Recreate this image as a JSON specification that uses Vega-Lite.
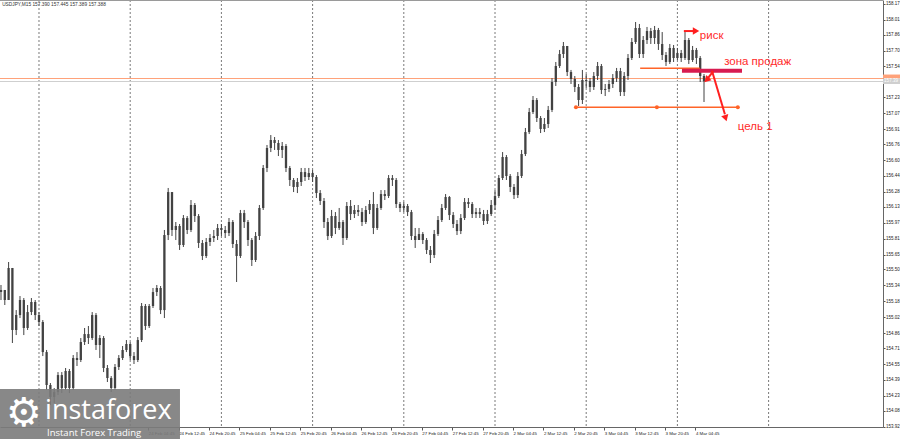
{
"$schema":"https://vega.github.io/schema/vega-lite/v6.json",
"width":883,"height":427,
"autosize":{"type":"none"},
"padding":{"left":0,"top":0,"right":17,"bottom":12},
"background":"#ffffff",
"view":{"stroke":null},
"config":{"font":"Liberation Sans"},
"datasets":{
"bars":[
{"t":-10,"o":155.273,"h":155.344,"l":155.193,"c":155.294},
{"t":-9,"o":155.294,"h":155.294,"l":155.143,"c":155.193},
{"t":-8,"o":155.193,"h":155.575,"l":155.193,"c":155.515},
{"t":-7,"o":155.515,"h":155.515,"l":154.761,"c":154.892},
{"t":-6,"o":154.892,"h":155.092,"l":154.841,"c":155.042},
{"t":-5,"o":155.042,"h":155.233,"l":155.012,"c":155.193},
{"t":-4,"o":155.193,"h":155.213,"l":154.841,"c":154.912},
{"t":-3,"o":154.912,"h":155.143,"l":154.892,"c":155.072},
{"t":-2,"o":155.072,"h":155.213,"l":155.042,"c":155.173},
{"t":-1,"o":155.173,"h":155.193,"l":154.992,"c":155.042},
{"t":0,"o":155.042,"h":155.072,"l":154.932,"c":154.972},
{"t":1,"o":154.972,"h":154.992,"l":154.630,"c":154.670},
{"t":2,"o":154.670,"h":154.691,"l":154.289,"c":154.339},
{"t":3,"o":154.339,"h":154.359,"l":154.138,"c":154.218},
{"t":4,"o":154.218,"h":154.309,"l":154.158,"c":154.268},
{"t":5,"o":154.268,"h":154.469,"l":154.238,"c":154.439},
{"t":6,"o":154.439,"h":154.469,"l":154.258,"c":154.309},
{"t":7,"o":154.309,"h":154.510,"l":154.289,"c":154.480},
{"t":8,"o":154.480,"h":154.500,"l":154.258,"c":154.309},
{"t":9,"o":154.309,"h":154.640,"l":154.289,"c":154.610},
{"t":10,"o":154.610,"h":154.670,"l":154.530,"c":154.590},
{"t":11,"o":154.590,"h":154.811,"l":154.570,"c":154.771},
{"t":12,"o":154.771,"h":154.912,"l":154.741,"c":154.851},
{"t":13,"o":154.851,"h":154.932,"l":154.751,"c":154.811},
{"t":14,"o":154.811,"h":155.072,"l":154.791,"c":155.042},
{"t":15,"o":155.042,"h":155.062,"l":154.691,"c":154.741},
{"t":16,"o":154.741,"h":154.841,"l":154.610,"c":154.811},
{"t":17,"o":154.811,"h":154.831,"l":154.469,"c":154.510},
{"t":18,"o":154.510,"h":154.540,"l":154.369,"c":154.409},
{"t":19,"o":154.409,"h":154.429,"l":154.268,"c":154.309},
{"t":20,"o":154.309,"h":154.550,"l":154.289,"c":154.520},
{"t":21,"o":154.520,"h":154.640,"l":154.490,"c":154.610},
{"t":22,"o":154.610,"h":154.731,"l":154.590,"c":154.691},
{"t":23,"o":154.691,"h":154.791,"l":154.670,"c":154.751},
{"t":24,"o":154.751,"h":154.771,"l":154.590,"c":154.630},
{"t":25,"o":154.630,"h":154.670,"l":154.550,"c":154.590},
{"t":26,"o":154.590,"h":154.821,"l":154.570,"c":154.791},
{"t":27,"o":154.791,"h":155.163,"l":154.771,"c":155.133},
{"t":28,"o":155.133,"h":155.153,"l":154.892,"c":154.932},
{"t":29,"o":154.932,"h":155.153,"l":154.912,"c":155.133},
{"t":30,"o":155.133,"h":155.314,"l":155.113,"c":155.273},
{"t":31,"o":155.273,"h":155.344,"l":155.233,"c":155.314},
{"t":32,"o":155.314,"h":155.334,"l":155.052,"c":155.092},
{"t":33,"o":155.092,"h":155.897,"l":155.012,"c":155.846},
{"t":34,"o":155.846,"h":156.319,"l":155.796,"c":156.278},
{"t":35,"o":156.278,"h":156.278,"l":155.836,"c":155.897},
{"t":36,"o":155.897,"h":155.977,"l":155.796,"c":155.937},
{"t":37,"o":155.937,"h":155.957,"l":155.696,"c":155.746},
{"t":38,"o":155.746,"h":156.047,"l":155.726,"c":156.017},
{"t":39,"o":156.017,"h":156.037,"l":155.856,"c":155.897},
{"t":40,"o":155.897,"h":156.198,"l":155.876,"c":156.148},
{"t":41,"o":156.148,"h":156.168,"l":155.977,"c":156.037},
{"t":42,"o":156.037,"h":156.057,"l":155.716,"c":155.766},
{"t":43,"o":155.766,"h":155.796,"l":155.595,"c":155.635},
{"t":44,"o":155.635,"h":155.816,"l":155.615,"c":155.776},
{"t":45,"o":155.776,"h":155.856,"l":155.736,"c":155.816},
{"t":46,"o":155.816,"h":155.897,"l":155.776,"c":155.836},
{"t":47,"o":155.836,"h":155.957,"l":155.796,"c":155.917},
{"t":48,"o":155.917,"h":155.957,"l":155.836,"c":155.897},
{"t":49,"o":155.897,"h":155.937,"l":155.816,"c":155.866},
{"t":50,"o":155.866,"h":156.017,"l":155.836,"c":155.977},
{"t":51,"o":155.977,"h":155.997,"l":155.716,"c":155.756},
{"t":52,"o":155.756,"h":155.796,"l":155.374,"c":155.635},
{"t":53,"o":155.635,"h":156.098,"l":155.615,"c":156.067},
{"t":54,"o":156.067,"h":156.098,"l":155.917,"c":155.977},
{"t":55,"o":155.977,"h":155.997,"l":155.736,"c":155.796},
{"t":56,"o":155.796,"h":155.816,"l":155.535,"c":155.595},
{"t":57,"o":155.595,"h":155.876,"l":155.575,"c":155.836},
{"t":58,"o":155.836,"h":156.148,"l":155.796,"c":156.118},
{"t":59,"o":156.118,"h":156.550,"l":156.098,"c":156.520},
{"t":60,"o":156.520,"h":156.751,"l":156.479,"c":156.721},
{"t":61,"o":156.721,"h":156.851,"l":156.680,"c":156.801},
{"t":62,"o":156.801,"h":156.831,"l":156.701,"c":156.771},
{"t":63,"o":156.771,"h":156.801,"l":156.640,"c":156.701},
{"t":64,"o":156.701,"h":156.781,"l":156.620,"c":156.741},
{"t":65,"o":156.741,"h":156.761,"l":156.479,"c":156.520},
{"t":66,"o":156.520,"h":156.540,"l":156.339,"c":156.399},
{"t":67,"o":156.399,"h":156.419,"l":156.278,"c":156.329},
{"t":68,"o":156.329,"h":156.419,"l":156.268,"c":156.379},
{"t":69,"o":156.379,"h":156.520,"l":156.339,"c":156.479},
{"t":70,"o":156.479,"h":156.520,"l":156.389,"c":156.429},
{"t":71,"o":156.429,"h":156.520,"l":156.399,"c":156.469},
{"t":72,"o":156.469,"h":156.500,"l":156.379,"c":156.429},
{"t":73,"o":156.429,"h":156.449,"l":156.218,"c":156.268},
{"t":74,"o":156.268,"h":156.298,"l":156.148,"c":156.188},
{"t":75,"o":156.188,"h":156.218,"l":155.917,"c":155.977},
{"t":76,"o":155.977,"h":156.017,"l":155.796,"c":155.836},
{"t":77,"o":155.836,"h":156.098,"l":155.816,"c":156.037},
{"t":78,"o":156.037,"h":156.077,"l":155.856,"c":155.917},
{"t":79,"o":155.917,"h":156.118,"l":155.897,"c":155.977},
{"t":80,"o":155.977,"h":155.997,"l":155.746,"c":155.816},
{"t":81,"o":155.816,"h":156.178,"l":155.796,"c":156.138},
{"t":82,"o":156.138,"h":156.198,"l":155.997,"c":156.057},
{"t":83,"o":156.057,"h":156.148,"l":156.017,"c":156.098},
{"t":84,"o":156.098,"h":156.148,"l":156.037,"c":156.077},
{"t":85,"o":156.077,"h":156.118,"l":155.937,"c":155.977},
{"t":86,"o":155.977,"h":156.138,"l":155.957,"c":156.098},
{"t":87,"o":156.098,"h":156.198,"l":156.057,"c":156.158},
{"t":88,"o":156.158,"h":156.278,"l":155.856,"c":155.917},
{"t":89,"o":155.917,"h":156.158,"l":155.897,"c":156.118},
{"t":90,"o":156.118,"h":156.298,"l":156.098,"c":156.258},
{"t":91,"o":156.258,"h":156.298,"l":156.198,"c":156.238},
{"t":92,"o":156.238,"h":156.449,"l":156.218,"c":156.419},
{"t":93,"o":156.419,"h":156.449,"l":156.339,"c":156.399},
{"t":94,"o":156.399,"h":156.419,"l":156.118,"c":156.158},
{"t":95,"o":156.158,"h":156.178,"l":156.077,"c":156.118},
{"t":96,"o":156.118,"h":156.178,"l":156.077,"c":156.138},
{"t":97,"o":156.138,"h":156.158,"l":156.037,"c":156.077},
{"t":98,"o":156.077,"h":156.098,"l":155.796,"c":155.836},
{"t":99,"o":155.836,"h":155.917,"l":155.716,"c":155.796},
{"t":100,"o":155.796,"h":155.917,"l":155.796,"c":155.856},
{"t":101,"o":155.856,"h":155.876,"l":155.756,"c":155.796},
{"t":102,"o":155.796,"h":155.816,"l":155.655,"c":155.696},
{"t":103,"o":155.696,"h":155.736,"l":155.565,"c":155.645},
{"t":104,"o":155.645,"h":155.897,"l":155.615,"c":155.856},
{"t":105,"o":155.856,"h":156.037,"l":155.836,"c":155.997},
{"t":106,"o":155.997,"h":156.158,"l":155.977,"c":156.118},
{"t":107,"o":156.118,"h":156.258,"l":156.098,"c":156.228},
{"t":108,"o":156.228,"h":156.238,"l":155.997,"c":156.047},
{"t":109,"o":156.047,"h":156.077,"l":155.917,"c":155.957},
{"t":110,"o":155.957,"h":155.997,"l":155.846,"c":155.886},
{"t":111,"o":155.886,"h":156.057,"l":155.856,"c":156.017},
{"t":112,"o":156.017,"h":156.218,"l":155.997,"c":156.178},
{"t":113,"o":156.178,"h":156.218,"l":156.118,"c":156.158},
{"t":114,"o":156.158,"h":156.178,"l":156.017,"c":156.057},
{"t":115,"o":156.057,"h":156.118,"l":156.017,"c":156.077},
{"t":116,"o":156.077,"h":156.118,"l":156.017,"c":156.057},
{"t":117,"o":156.057,"h":156.098,"l":155.947,"c":155.987},
{"t":118,"o":155.987,"h":156.098,"l":155.957,"c":156.057},
{"t":119,"o":156.057,"h":156.198,"l":156.037,"c":156.148},
{"t":120,"o":156.148,"h":156.298,"l":156.098,"c":156.238},
{"t":121,"o":156.238,"h":156.449,"l":156.218,"c":156.419},
{"t":122,"o":156.419,"h":156.680,"l":156.399,"c":156.630},
{"t":123,"o":156.630,"h":156.650,"l":156.399,"c":156.439},
{"t":124,"o":156.439,"h":156.459,"l":156.278,"c":156.329},
{"t":125,"o":156.329,"h":156.359,"l":156.208,"c":156.248},
{"t":126,"o":156.248,"h":156.479,"l":156.218,"c":156.439},
{"t":127,"o":156.439,"h":156.701,"l":156.419,"c":156.660},
{"t":128,"o":156.660,"h":156.922,"l":156.640,"c":156.881},
{"t":129,"o":156.881,"h":157.123,"l":156.861,"c":157.082},
{"t":130,"o":157.082,"h":157.243,"l":157.062,"c":157.203},
{"t":131,"o":157.203,"h":157.223,"l":156.982,"c":157.022},
{"t":132,"o":157.022,"h":157.042,"l":156.871,"c":156.912},
{"t":133,"o":156.912,"h":157.022,"l":156.881,"c":156.962},
{"t":134,"o":156.962,"h":157.143,"l":156.922,"c":157.103},
{"t":135,"o":157.103,"h":157.424,"l":157.082,"c":157.384},
{"t":136,"o":157.384,"h":157.585,"l":157.344,"c":157.545},
{"t":137,"o":157.545,"h":157.706,"l":157.525,"c":157.665},
{"t":138,"o":157.665,"h":157.786,"l":157.625,"c":157.746},
{"t":139,"o":157.746,"h":157.746,"l":157.444,"c":157.484},
{"t":140,"o":157.484,"h":157.505,"l":157.364,"c":157.414},
{"t":141,"o":157.414,"h":157.444,"l":157.283,"c":157.334},
{"t":142,"o":157.334,"h":157.364,"l":157.143,"c":157.203},
{"t":143,"o":157.203,"h":157.505,"l":157.163,"c":157.404},
{"t":144,"o":157.404,"h":157.464,"l":157.324,"c":157.394},
{"t":145,"o":157.394,"h":157.424,"l":157.283,"c":157.334},
{"t":146,"o":157.334,"h":157.484,"l":157.304,"c":157.444},
{"t":147,"o":157.444,"h":157.585,"l":157.404,"c":157.545},
{"t":148,"o":157.545,"h":157.565,"l":157.263,"c":157.304},
{"t":149,"o":157.304,"h":157.364,"l":157.243,"c":157.314},
{"t":150,"o":157.314,"h":157.404,"l":157.283,"c":157.364},
{"t":151,"o":157.364,"h":157.464,"l":157.324,"c":157.424},
{"t":152,"o":157.424,"h":157.525,"l":157.384,"c":157.494},
{"t":153,"o":157.494,"h":157.525,"l":157.243,"c":157.283},
{"t":154,"o":157.283,"h":157.484,"l":157.243,"c":157.444},
{"t":155,"o":157.444,"h":157.665,"l":157.404,"c":157.625},
{"t":156,"o":157.625,"h":157.826,"l":157.605,"c":157.786},
{"t":157,"o":157.786,"h":157.987,"l":157.766,"c":157.927},
{"t":158,"o":157.927,"h":157.967,"l":157.625,"c":157.665},
{"t":159,"o":157.665,"h":157.846,"l":157.625,"c":157.806},
{"t":160,"o":157.806,"h":157.937,"l":157.766,"c":157.896},
{"t":161,"o":157.896,"h":157.927,"l":157.766,"c":157.826},
{"t":162,"o":157.826,"h":157.947,"l":157.766,"c":157.907},
{"t":163,"o":157.907,"h":157.927,"l":157.706,"c":157.766},
{"t":164,"o":157.766,"h":157.886,"l":157.605,"c":157.655},
{"t":165,"o":157.655,"h":157.685,"l":157.545,"c":157.585},
{"t":166,"o":157.585,"h":157.766,"l":157.565,"c":157.726},
{"t":167,"o":157.726,"h":157.756,"l":157.585,"c":157.625},
{"t":168,"o":157.625,"h":157.726,"l":157.605,"c":157.675},
{"t":169,"o":157.675,"h":157.706,"l":157.585,"c":157.625},
{"t":170,"o":157.625,"h":157.886,"l":157.605,"c":157.806},
{"t":171,"o":157.806,"h":157.826,"l":157.565,"c":157.605},
{"t":172,"o":157.605,"h":157.746,"l":157.585,"c":157.706},
{"t":173,"o":157.706,"h":157.726,"l":157.565,"c":157.625},
{"t":174,"o":157.625,"h":157.645,"l":157.384,"c":157.444},
{"t":175,"o":157.444,"h":157.464,"l":157.183,"c":157.390}
],
"days":[{"t":0},{"t":24},{"t":48},{"t":72},{"t":96},{"t":120},{"t":144},{"t":168},{"t":192}],
"plines":[{"p":157.419,"kind":"ask"},{"p":157.389,"kind":"bid"}],
"toprule":[{"p":158.205}],
"olines":[{"t":158.2,"t2":173.9,"p":157.522,"p2":157.522},{"t":141.3,"t2":183.9,"p":157.130,"p2":157.130}],
"nodes":[{"t":141.3,"p":157.130},{"t":162.6,"p":157.130},{"t":183.9,"p":157.130}],
"zone":[{"t":169.2,"t2":185.0,"p":157.497,"p2":157.497}],
"arrows":[{"t":169.7,"t2":172.2,"p":157.896,"p2":157.896},{"t":177.1,"t2":180.5,"p":157.497,"p2":157.06},{"t":177.4,"t2":176.0,"p":157.49,"p2":157.42}],
"heads":[{"t":172.9,"p":157.896,"sh":"triangle-right","ang":0},{"t":180.7,"p":157.02,"sh":"triangle-down","ang":-17},{"t":175.7,"p":157.405,"sh":"triangle-left","ang":-45}],
"notes":[{"t":173.9,"p":157.846,"txt":"риск"},{"t":180.3,"p":157.585,"txt":"зона продаж"},{"t":183.9,"p":156.935,"txt":"цель 1"}],
"header":[{"t":-9.7,"p":158.158,"txt":"USDJPY,M15  157.390 157.445 157.389 157.388"}],
"logobox":[{"t":-10.263,"t2":37.1,"p":153.796,"p2":154.299}],
"gear":[{"t":-3.95,"p":154.05,"txt":"⚙"}],
"logo1":[{"t":1.6,"p":153.997,"txt":"instaforex"}],
"logo2":[{"t":2.1,"p":153.826,"txt":"Instant Forex Trading"}],
"pbox":[{"t":222.105,"t2":226.6,"p":157.459,"p2":157.419,"kind":"ask"},{"t":222.105,"t2":226.6,"p":157.419,"p2":157.364,"kind":"bid"}],
"ptext":[{"t":222.4,"p":157.392,"txt":"157.39"}]
},
"encoding":{
"x":{"field":"t","type":"quantitative","title":null,
"scale":{"domain":[-10.263,222.105],"nice":false,"zero":false,"padding":0},
"axis":{"orient":"bottom","zindex":0,"values":[28.75,36.75,44.75,52.75,60.75,68.75,76.75,84.75,92.75,100.75,108.75,116.75,124.75,132.75,140.75,148.75,156.75,164.75,172.75],
"labelExpr":"['20 Feb','23 Feb','24 Feb','25 Feb','26 Feb','27 Feb','2 Mar','3 Mar','4 Mar'][floor(datum.value/24)+1] + ' ' + ['04:45','12:45','20:45'][floor((((datum.value % 24) + 24) % 24)/8)]",
"labelAlign":"left","labelPadding":1,"labelFontSize":4.4,"labelFont":"Liberation Sans","labelColor":"#222","tickSize":3,"tickColor":"#555","domainColor":"#666","grid":false,"labelOverlap":false,"labelFlush":false,"labelBound":false}}
},
"layer":[
{"data":{"name":"days"},"mark":{"type":"rule","color":"#7a7a7a","strokeDash":[2,2],"strokeWidth":1},
 "encoding":{}},
{"data":{"name":"plines"},"mark":{"type":"rule","strokeWidth":1},
 "encoding":{"x":null,"y":{"field":"p","type":"quantitative","title":null,"scale":{"domain":[153.917,158.208],"nice":false,"zero":false,"padding":0},"axis":{"orient":"right","zindex":0,"values":[153.92,154.08,154.23,154.39,154.55,154.71,154.86,155.02,155.18,155.34,155.50,155.65,155.81,155.97,156.13,156.28,156.44,156.60,156.76,156.91,157.07,157.23,157.54,157.70,157.86,158.01,158.17],"format":".2f","labelFontSize":4.5,"labelFont":"Liberation Sans","labelColor":"#222","labelPadding":0.5,"tickSize":2,"tickColor":"#555","domainColor":"#666","grid":false,"labelOverlap":false,"labelFlush":false,"labelBound":false}},
 "color":{"field":"kind","type":"nominal","legend":null,"scale":{"domain":["ask","bid"],"range":["#ffa27a","#cfcfcf"]}}}},
{"data":{"name":"toprule"},"mark":{"type":"rule","color":"#9a9a9a","strokeWidth":1.5},
 "encoding":{"x":null,"y":{"field":"p","type":"quantitative","title":null,"scale":{"domain":[153.917,158.208],"nice":false,"zero":false,"padding":0},"axis":{"orient":"right","zindex":0,"values":[153.92,154.08,154.23,154.39,154.55,154.71,154.86,155.02,155.18,155.34,155.50,155.65,155.81,155.97,156.13,156.28,156.44,156.60,156.76,156.91,157.07,157.23,157.54,157.70,157.86,158.01,158.17],"format":".2f","labelFontSize":4.5,"labelFont":"Liberation Sans","labelColor":"#222","labelPadding":0.5,"tickSize":2,"tickColor":"#555","domainColor":"#666","grid":false,"labelOverlap":false,"labelFlush":false,"labelBound":false}}}},
{"data":{"name":"bars"},"mark":{"type":"rule","color":"#424242","strokeWidth":1},
 "encoding":{"y":{"field":"l","type":"quantitative","title":null,"scale":{"domain":[153.917,158.208],"nice":false,"zero":false,"padding":0},"axis":{"orient":"right","zindex":0,"values":[153.92,154.08,154.23,154.39,154.55,154.71,154.86,155.02,155.18,155.34,155.50,155.65,155.81,155.97,156.13,156.28,156.44,156.60,156.76,156.91,157.07,157.23,157.54,157.70,157.86,158.01,158.17],"format":".2f","labelFontSize":4.5,"labelFont":"Liberation Sans","labelColor":"#222","labelPadding":0.5,"tickSize":2,"tickColor":"#555","domainColor":"#666","grid":false,"labelOverlap":false,"labelFlush":false,"labelBound":false}},
 "y2":{"field":"h"}}},
{"data":{"name":"bars"},"mark":{"type":"bar","color":"#424242","width":2.3},
 "encoding":{"y":{"field":"o","type":"quantitative","title":null,"scale":{"domain":[153.917,158.208],"nice":false,"zero":false,"padding":0},"axis":{"orient":"right","zindex":0,"values":[153.92,154.08,154.23,154.39,154.55,154.71,154.86,155.02,155.18,155.34,155.50,155.65,155.81,155.97,156.13,156.28,156.44,156.60,156.76,156.91,157.07,157.23,157.54,157.70,157.86,158.01,158.17],"format":".2f","labelFontSize":4.5,"labelFont":"Liberation Sans","labelColor":"#222","labelPadding":0.5,"tickSize":2,"tickColor":"#555","domainColor":"#666","grid":false,"labelOverlap":false,"labelFlush":false,"labelBound":false}},"y2":{"field":"c"}}},
{"data":{"name":"olines"},"mark":{"type":"rule","color":"#ff6428","strokeWidth":1.5},
 "encoding":{"x2":{"field":"t2"},"y":{"field":"p","type":"quantitative","title":null,"scale":{"domain":[153.917,158.208],"nice":false,"zero":false,"padding":0},"axis":{"orient":"right","zindex":0,"values":[153.92,154.08,154.23,154.39,154.55,154.71,154.86,155.02,155.18,155.34,155.50,155.65,155.81,155.97,156.13,156.28,156.44,156.60,156.76,156.91,157.07,157.23,157.54,157.70,157.86,158.01,158.17],"format":".2f","labelFontSize":4.5,"labelFont":"Liberation Sans","labelColor":"#222","labelPadding":0.5,"tickSize":2,"tickColor":"#555","domainColor":"#666","grid":false,"labelOverlap":false,"labelFlush":false,"labelBound":false}},"y2":{"field":"p2"}}},
{"data":{"name":"nodes"},"mark":{"type":"point","shape":"circle","filled":true,"color":"#ff6428","size":16,"opacity":1},
 "encoding":{"y":{"field":"p","type":"quantitative","title":null,"scale":{"domain":[153.917,158.208],"nice":false,"zero":false,"padding":0},"axis":{"orient":"right","zindex":0,"values":[153.92,154.08,154.23,154.39,154.55,154.71,154.86,155.02,155.18,155.34,155.50,155.65,155.81,155.97,156.13,156.28,156.44,156.60,156.76,156.91,157.07,157.23,157.54,157.70,157.86,158.01,158.17],"format":".2f","labelFontSize":4.5,"labelFont":"Liberation Sans","labelColor":"#222","labelPadding":0.5,"tickSize":2,"tickColor":"#555","domainColor":"#666","grid":false,"labelOverlap":false,"labelFlush":false,"labelBound":false}}}},
{"data":{"name":"zone"},"mark":{"type":"rule","color":"#d81b50","strokeWidth":4},
 "encoding":{"x2":{"field":"t2"},"y":{"field":"p","type":"quantitative","title":null,"scale":{"domain":[153.917,158.208],"nice":false,"zero":false,"padding":0},"axis":{"orient":"right","zindex":0,"values":[153.92,154.08,154.23,154.39,154.55,154.71,154.86,155.02,155.18,155.34,155.50,155.65,155.81,155.97,156.13,156.28,156.44,156.60,156.76,156.91,157.07,157.23,157.54,157.70,157.86,158.01,158.17],"format":".2f","labelFontSize":4.5,"labelFont":"Liberation Sans","labelColor":"#222","labelPadding":0.5,"tickSize":2,"tickColor":"#555","domainColor":"#666","grid":false,"labelOverlap":false,"labelFlush":false,"labelBound":false}},"y2":{"field":"p2"}}},
{"data":{"name":"arrows"},"mark":{"type":"rule","color":"#ff1f1f","strokeWidth":2},
 "encoding":{"x2":{"field":"t2"},"y":{"field":"p","type":"quantitative","title":null,"scale":{"domain":[153.917,158.208],"nice":false,"zero":false,"padding":0},"axis":{"orient":"right","zindex":0,"values":[153.92,154.08,154.23,154.39,154.55,154.71,154.86,155.02,155.18,155.34,155.50,155.65,155.81,155.97,156.13,156.28,156.44,156.60,156.76,156.91,157.07,157.23,157.54,157.70,157.86,158.01,158.17],"format":".2f","labelFontSize":4.5,"labelFont":"Liberation Sans","labelColor":"#222","labelPadding":0.5,"tickSize":2,"tickColor":"#555","domainColor":"#666","grid":false,"labelOverlap":false,"labelFlush":false,"labelBound":false}},"y2":{"field":"p2"}}},
{"data":{"name":"heads"},"mark":{"type":"point","filled":true,"color":"#ff1f1f","size":55,"opacity":1},
 "encoding":{"y":{"field":"p","type":"quantitative","title":null,"scale":{"domain":[153.917,158.208],"nice":false,"zero":false,"padding":0},"axis":{"orient":"right","zindex":0,"values":[153.92,154.08,154.23,154.39,154.55,154.71,154.86,155.02,155.18,155.34,155.50,155.65,155.81,155.97,156.13,156.28,156.44,156.60,156.76,156.91,157.07,157.23,157.54,157.70,157.86,158.01,158.17],"format":".2f","labelFontSize":4.5,"labelFont":"Liberation Sans","labelColor":"#222","labelPadding":0.5,"tickSize":2,"tickColor":"#555","domainColor":"#666","grid":false,"labelOverlap":false,"labelFlush":false,"labelBound":false}},
 "shape":{"field":"sh","type":"nominal","scale":null,"legend":null},"angle":{"field":"ang","type":"quantitative","scale":null}}},
{"data":{"name":"notes"},"mark":{"type":"text","color":"#ff2a2a","fontSize":11.5,"align":"left","baseline":"middle","font":"Liberation Sans"},
 "encoding":{"y":{"field":"p","type":"quantitative","title":null,"scale":{"domain":[153.917,158.208],"nice":false,"zero":false,"padding":0},"axis":{"orient":"right","zindex":0,"values":[153.92,154.08,154.23,154.39,154.55,154.71,154.86,155.02,155.18,155.34,155.50,155.65,155.81,155.97,156.13,156.28,156.44,156.60,156.76,156.91,157.07,157.23,157.54,157.70,157.86,158.01,158.17],"format":".2f","labelFontSize":4.5,"labelFont":"Liberation Sans","labelColor":"#222","labelPadding":0.5,"tickSize":2,"tickColor":"#555","domainColor":"#666","grid":false,"labelOverlap":false,"labelFlush":false,"labelBound":false}},"text":{"field":"txt"}}},
{"data":{"name":"header"},"mark":{"type":"text","color":"#333","fontSize":4.8,"align":"left","baseline":"middle"},
 "encoding":{"y":{"field":"p","type":"quantitative","title":null,"scale":{"domain":[153.917,158.208],"nice":false,"zero":false,"padding":0},"axis":{"orient":"right","zindex":0,"values":[153.92,154.08,154.23,154.39,154.55,154.71,154.86,155.02,155.18,155.34,155.50,155.65,155.81,155.97,156.13,156.28,156.44,156.60,156.76,156.91,157.07,157.23,157.54,157.70,157.86,158.01,158.17],"format":".2f","labelFontSize":4.5,"labelFont":"Liberation Sans","labelColor":"#222","labelPadding":0.5,"tickSize":2,"tickColor":"#555","domainColor":"#666","grid":false,"labelOverlap":false,"labelFlush":false,"labelBound":false}},"text":{"field":"txt"}}},
{"data":{"name":"pbox"},"mark":{"type":"rect"},
 "encoding":{"x2":{"field":"t2"},"y":{"field":"p","type":"quantitative","title":null,"scale":{"domain":[153.917,158.208],"nice":false,"zero":false,"padding":0},"axis":{"orient":"right","zindex":0,"values":[153.92,154.08,154.23,154.39,154.55,154.71,154.86,155.02,155.18,155.34,155.50,155.65,155.81,155.97,156.13,156.28,156.44,156.60,156.76,156.91,157.07,157.23,157.54,157.70,157.86,158.01,158.17],"format":".2f","labelFontSize":4.5,"labelFont":"Liberation Sans","labelColor":"#222","labelPadding":0.5,"tickSize":2,"tickColor":"#555","domainColor":"#666","grid":false,"labelOverlap":false,"labelFlush":false,"labelBound":false}},"y2":{"field":"p2"},
 "color":{"field":"kind","type":"nominal","legend":null,"scale":{"domain":["ask","bid"],"range":["#ff5a1f","#111111"]}}}},
{"data":{"name":"ptext"},"mark":{"type":"text","color":"#ffffff","fontSize":4.5,"align":"left","baseline":"middle"},
 "encoding":{"y":{"field":"p","type":"quantitative","title":null,"scale":{"domain":[153.917,158.208],"nice":false,"zero":false,"padding":0},"axis":{"orient":"right","zindex":0,"values":[153.92,154.08,154.23,154.39,154.55,154.71,154.86,155.02,155.18,155.34,155.50,155.65,155.81,155.97,156.13,156.28,156.44,156.60,156.76,156.91,157.07,157.23,157.54,157.70,157.86,158.01,158.17],"format":".2f","labelFontSize":4.5,"labelFont":"Liberation Sans","labelColor":"#222","labelPadding":0.5,"tickSize":2,"tickColor":"#555","domainColor":"#666","grid":false,"labelOverlap":false,"labelFlush":false,"labelBound":false}},"text":{"field":"txt"}}},
{"data":{"name":"logobox"},"mark":{"type":"rect","color":"#7b7b7b","opacity":0.9},
 "encoding":{"x2":{"field":"t2"},"y":{"field":"p","type":"quantitative","title":null,"scale":{"domain":[153.917,158.208],"nice":false,"zero":false,"padding":0},"axis":{"orient":"right","zindex":0,"values":[153.92,154.08,154.23,154.39,154.55,154.71,154.86,155.02,155.18,155.34,155.50,155.65,155.81,155.97,156.13,156.28,156.44,156.60,156.76,156.91,157.07,157.23,157.54,157.70,157.86,158.01,158.17],"format":".2f","labelFontSize":4.5,"labelFont":"Liberation Sans","labelColor":"#222","labelPadding":0.5,"tickSize":2,"tickColor":"#555","domainColor":"#666","grid":false,"labelOverlap":false,"labelFlush":false,"labelBound":false}},"y2":{"field":"p2"}}},
{"data":{"name":"gear"},"mark":{"type":"text","color":"#ffffff","fontSize":40,"align":"center","baseline":"middle","font":"DejaVu Sans"},
 "encoding":{"y":{"field":"p","type":"quantitative","title":null,"scale":{"domain":[153.917,158.208],"nice":false,"zero":false,"padding":0},"axis":{"orient":"right","zindex":0,"values":[153.92,154.08,154.23,154.39,154.55,154.71,154.86,155.02,155.18,155.34,155.50,155.65,155.81,155.97,156.13,156.28,156.44,156.60,156.76,156.91,157.07,157.23,157.54,157.70,157.86,158.01,158.17],"format":".2f","labelFontSize":4.5,"labelFont":"Liberation Sans","labelColor":"#222","labelPadding":0.5,"tickSize":2,"tickColor":"#555","domainColor":"#666","grid":false,"labelOverlap":false,"labelFlush":false,"labelBound":false}},"text":{"field":"txt"}}},
{"data":{"name":"logo1"},"mark":{"type":"text","color":"#ffffff","fontSize":27,"align":"left","baseline":"alphabetic","font":"Open Sans"},
 "encoding":{"y":{"field":"p","type":"quantitative","title":null,"scale":{"domain":[153.917,158.208],"nice":false,"zero":false,"padding":0},"axis":{"orient":"right","zindex":0,"values":[153.92,154.08,154.23,154.39,154.55,154.71,154.86,155.02,155.18,155.34,155.50,155.65,155.81,155.97,156.13,156.28,156.44,156.60,156.76,156.91,157.07,157.23,157.54,157.70,157.86,158.01,158.17],"format":".2f","labelFontSize":4.5,"labelFont":"Liberation Sans","labelColor":"#222","labelPadding":0.5,"tickSize":2,"tickColor":"#555","domainColor":"#666","grid":false,"labelOverlap":false,"labelFlush":false,"labelBound":false}},"text":{"field":"txt"}}},
{"data":{"name":"logo2"},"mark":{"type":"text","color":"#ffffff","fontSize":9.5,"align":"left","baseline":"alphabetic","font":"Open Sans"},
 "encoding":{"y":{"field":"p","type":"quantitative","title":null,"scale":{"domain":[153.917,158.208],"nice":false,"zero":false,"padding":0},"axis":{"orient":"right","zindex":0,"values":[153.92,154.08,154.23,154.39,154.55,154.71,154.86,155.02,155.18,155.34,155.50,155.65,155.81,155.97,156.13,156.28,156.44,156.60,156.76,156.91,157.07,157.23,157.54,157.70,157.86,158.01,158.17],"format":".2f","labelFontSize":4.5,"labelFont":"Liberation Sans","labelColor":"#222","labelPadding":0.5,"tickSize":2,"tickColor":"#555","domainColor":"#666","grid":false,"labelOverlap":false,"labelFlush":false,"labelBound":false}},"text":{"field":"txt"}}}
]
}
